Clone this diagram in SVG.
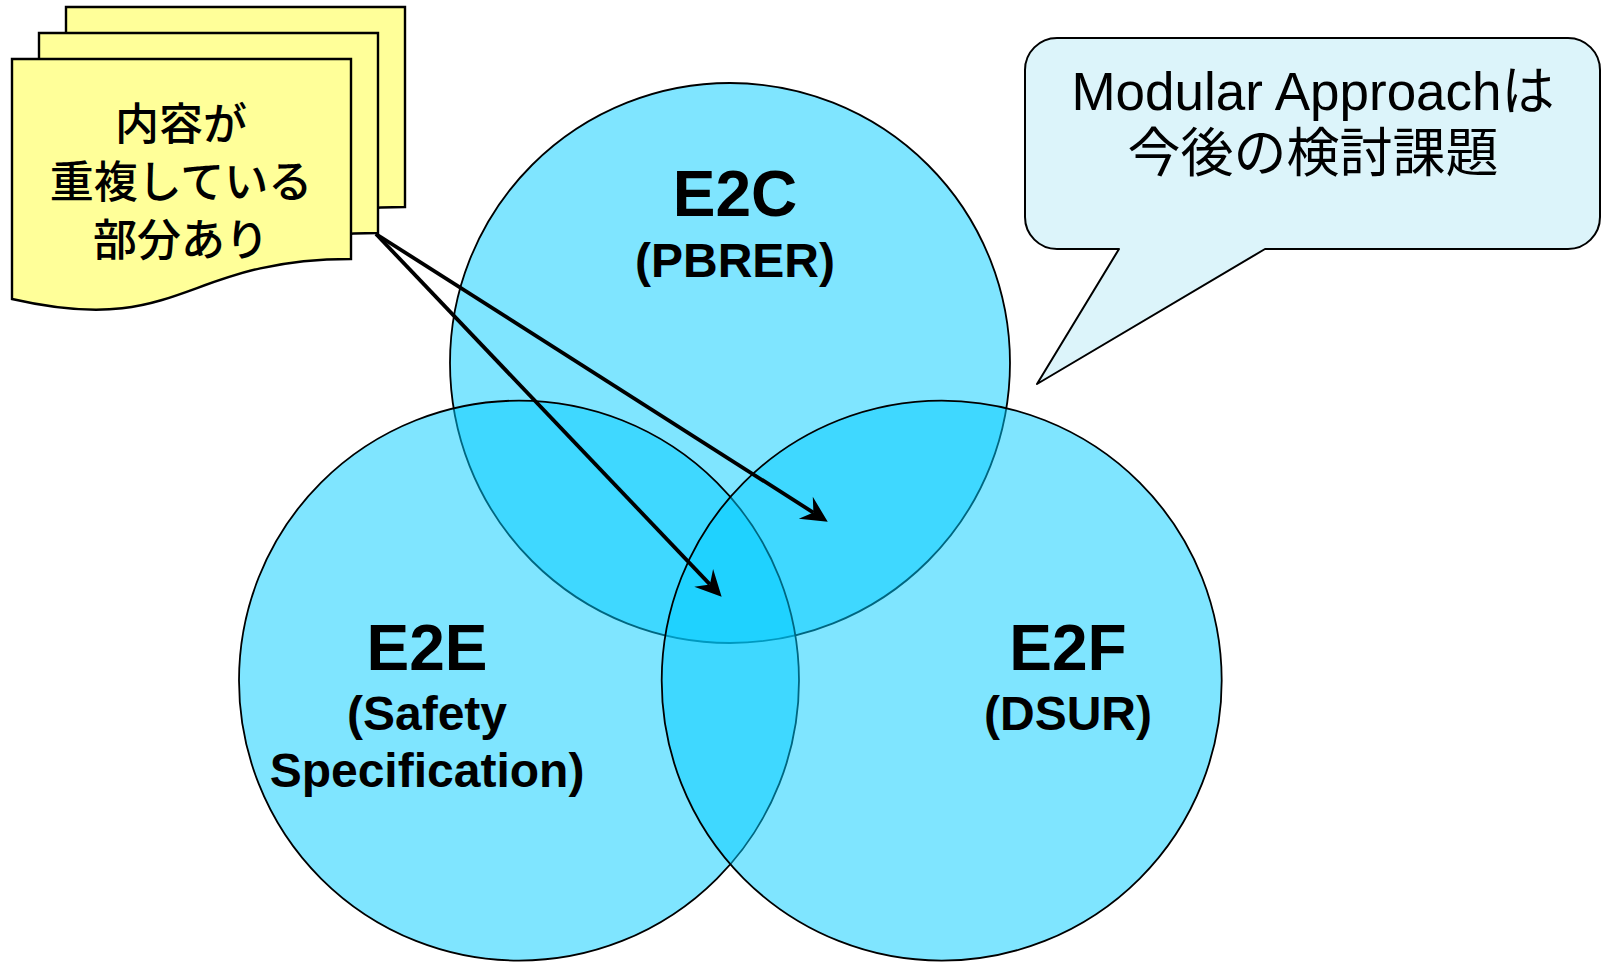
<svg xmlns="http://www.w3.org/2000/svg" width="1606" height="962" viewBox="0 0 1606 962">
  <style>
    .set { fill: #00CCFF; fill-opacity: 0.5; stroke: #000; stroke-width: 1.8; }
    .page { fill: #FFFF99; stroke: #000; stroke-width: 2.4; stroke-linejoin: miter; }
    .callout { fill: #DCF4FA; stroke: #000; stroke-width: 2; stroke-linejoin: round; }
    .title { font-family: "Liberation Sans", Arial, sans-serif; font-weight: bold; font-size: 64px; fill: #000; text-anchor: middle; }
    .sub { font-family: "Liberation Sans", Arial, sans-serif; font-weight: bold; font-size: 48px; fill: #000; text-anchor: middle; }
    .note-text { font-family: "Noto Sans CJK JP", sans-serif; font-size: 44px; font-weight: 500; fill: #000; text-anchor: middle; }
    .callout-text { font-family: "Liberation Sans", "Noto Sans CJK JP", sans-serif; font-size: 53px; fill: #000; text-anchor: middle; }
    .link { fill: none; stroke: #000; stroke-width: 3.8; }
  </style>
  <defs>
    <!-- one sheet of the stacked document: flat top, wavy bottom edge -->
    <path id="sheet" d="M0,0 H339 V200 C169.5,200 169.5,279 0,240 Z"/>
    <marker id="stealth" viewBox="-27 -14 28 28" refX="-17" refY="0" markerWidth="28" markerHeight="28" markerUnits="userSpaceOnUse" orient="auto" overflow="visible">
      <path d="M0,0 L-26,-13 L-17,0 L-26,13 Z" fill="#000"/>
    </marker>
  </defs>

  <!-- Venn sets, drawn top, left, right so later fills tint earlier outlines -->
  <g id="e2c">
    <circle class="set" cx="730" cy="363" r="280"/>
  </g>
  <g id="e2e">
    <circle class="set" cx="519" cy="680.6" r="280"/>
  </g>
  <g id="e2f">
    <circle class="set" cx="941.7" cy="680.6" r="280"/>
  </g>

  <!-- set labels -->
  <g id="e2c-label">
    <text class="title" x="735" y="216">E2C</text>
    <text class="sub" x="735" y="277">(PBRER)</text>
  </g>
  <g id="e2e-label">
    <text class="title" x="427" y="670">E2E</text>
    <text class="sub" x="427" y="730">(Safety</text>
    <text class="sub" x="427" y="787">Specification)</text>
  </g>
  <g id="e2f-label">
    <text class="title" x="1068" y="670">E2F</text>
    <text class="sub" x="1068" y="730">(DSUR)</text>
  </g>

  <!-- stacked document note -->
  <g id="note">
    <use href="#sheet" class="page" transform="translate(66,7)"/>
    <use href="#sheet" class="page" transform="translate(39,33)"/>
    <use href="#sheet" class="page" transform="translate(12,59)"/>
    <text class="note-text" x="181" y="140">内容が</text>
    <text class="note-text" x="181" y="198">重複している</text>
    <text class="note-text" x="181" y="256">部分あり</text>
  </g>

  <!-- speech-bubble callout -->
  <g id="callout">
    <path class="callout" d="M1057,38 H1568 A32,32 0 0 1 1600,70 V217 A32,32 0 0 1 1568,249 H1265 L1037,384 L1119,249 H1057 A32,32 0 0 1 1025,217 V70 A32,32 0 0 1 1057,38 Z"/>
    <text class="callout-text" x="1313" y="110">Modular Approachは</text>
    <text class="callout-text" x="1313" y="172">今後の検討課題</text>
  </g>

  <!-- connectors from the note into the overlap regions -->
  <g id="connectors">
    <path class="link" d="M376,234 L709.9,584.4" marker-end="url(#stealth)"/>
    <path class="link" d="M376,234 L813.4,512.6" marker-end="url(#stealth)"/>
  </g>
</svg>
